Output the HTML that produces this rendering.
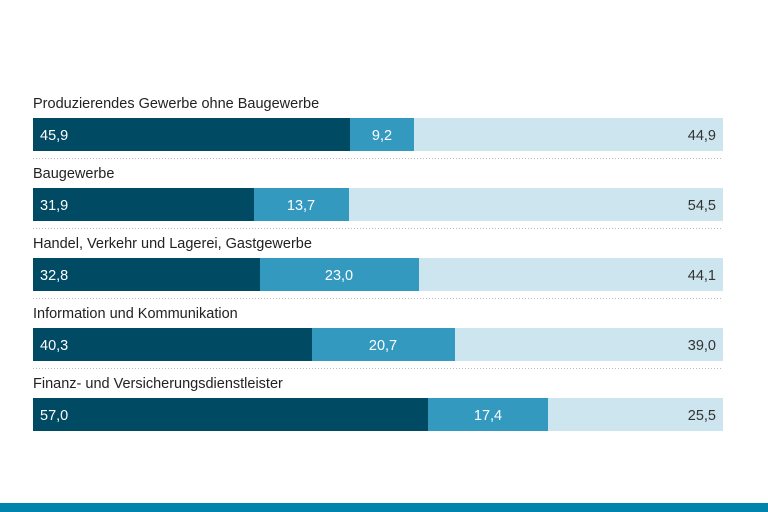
<!DOCTYPE html>
<html><head><meta charset="utf-8"><style>
body{margin:0;background:#fff;}
svg{display:block;font-family:"Liberation Sans",Arial,sans-serif;}
</style></head><body>
<svg width="768" height="512" viewBox="0 0 768 512" xmlns="http://www.w3.org/2000/svg">
<rect width="768" height="512" fill="#fff"/>
<g font-size="14.5">
<!-- row 1 -->
<text x="33" y="108" fill="#222">Produzierendes Gewerbe ohne Baugewerbe</text>
<rect x="33" y="118" width="317" height="33" fill="#014a63"/>
<rect x="350" y="118" width="64" height="33" fill="#3399bf"/>
<rect x="414" y="118" width="309" height="33" fill="#cce5ef"/>
<text x="40" y="140" fill="#fff">45,9</text>
<text x="382" y="140" fill="#fff" text-anchor="middle">9,2</text>
<text x="716" y="140" fill="#333" text-anchor="end">44,9</text>
<line x1="33" y1="158.5" x2="723" y2="158.5" stroke="#bbb" stroke-dasharray="1,2"/>
<!-- row 2 -->
<text x="33" y="178" fill="#222">Baugewerbe</text>
<rect x="33" y="188" width="221" height="33" fill="#014a63"/>
<rect x="254" y="188" width="95" height="33" fill="#3399bf"/>
<rect x="349" y="188" width="374" height="33" fill="#cce5ef"/>
<text x="40" y="210" fill="#fff">31,9</text>
<text x="301" y="210" fill="#fff" text-anchor="middle">13,7</text>
<text x="716" y="210" fill="#333" text-anchor="end">54,5</text>
<line x1="33" y1="228.5" x2="723" y2="228.5" stroke="#bbb" stroke-dasharray="1,2"/>
<!-- row 3 -->
<text x="33" y="248" fill="#222">Handel, Verkehr und Lagerei, Gastgewerbe</text>
<rect x="33" y="258" width="227" height="33" fill="#014a63"/>
<rect x="260" y="258" width="159" height="33" fill="#3399bf"/>
<rect x="419" y="258" width="304" height="33" fill="#cce5ef"/>
<text x="40" y="280" fill="#fff">32,8</text>
<text x="339" y="280" fill="#fff" text-anchor="middle">23,0</text>
<text x="716" y="280" fill="#333" text-anchor="end">44,1</text>
<line x1="33" y1="298.5" x2="723" y2="298.5" stroke="#bbb" stroke-dasharray="1,2"/>
<!-- row 4 -->
<text x="33" y="318" fill="#222">Information und Kommunikation</text>
<rect x="33" y="328" width="279" height="33" fill="#014a63"/>
<rect x="312" y="328" width="143" height="33" fill="#3399bf"/>
<rect x="455" y="328" width="268" height="33" fill="#cce5ef"/>
<text x="40" y="350" fill="#fff">40,3</text>
<text x="383" y="350" fill="#fff" text-anchor="middle">20,7</text>
<text x="716" y="350" fill="#333" text-anchor="end">39,0</text>
<line x1="33" y1="368.5" x2="723" y2="368.5" stroke="#bbb" stroke-dasharray="1,2"/>
<!-- row 5 -->
<text x="33" y="388" fill="#222">Finanz- und Versicherungsdienstleister</text>
<rect x="33" y="398" width="395" height="33" fill="#014a63"/>
<rect x="428" y="398" width="120" height="33" fill="#3399bf"/>
<rect x="548" y="398" width="175" height="33" fill="#cce5ef"/>
<text x="40" y="420" fill="#fff">57,0</text>
<text x="488" y="420" fill="#fff" text-anchor="middle">17,4</text>
<text x="716" y="420" fill="#333" text-anchor="end">25,5</text>
</g>
<rect x="0" y="503" width="768" height="9" fill="#0083ad"/>
</svg>
</body></html>
